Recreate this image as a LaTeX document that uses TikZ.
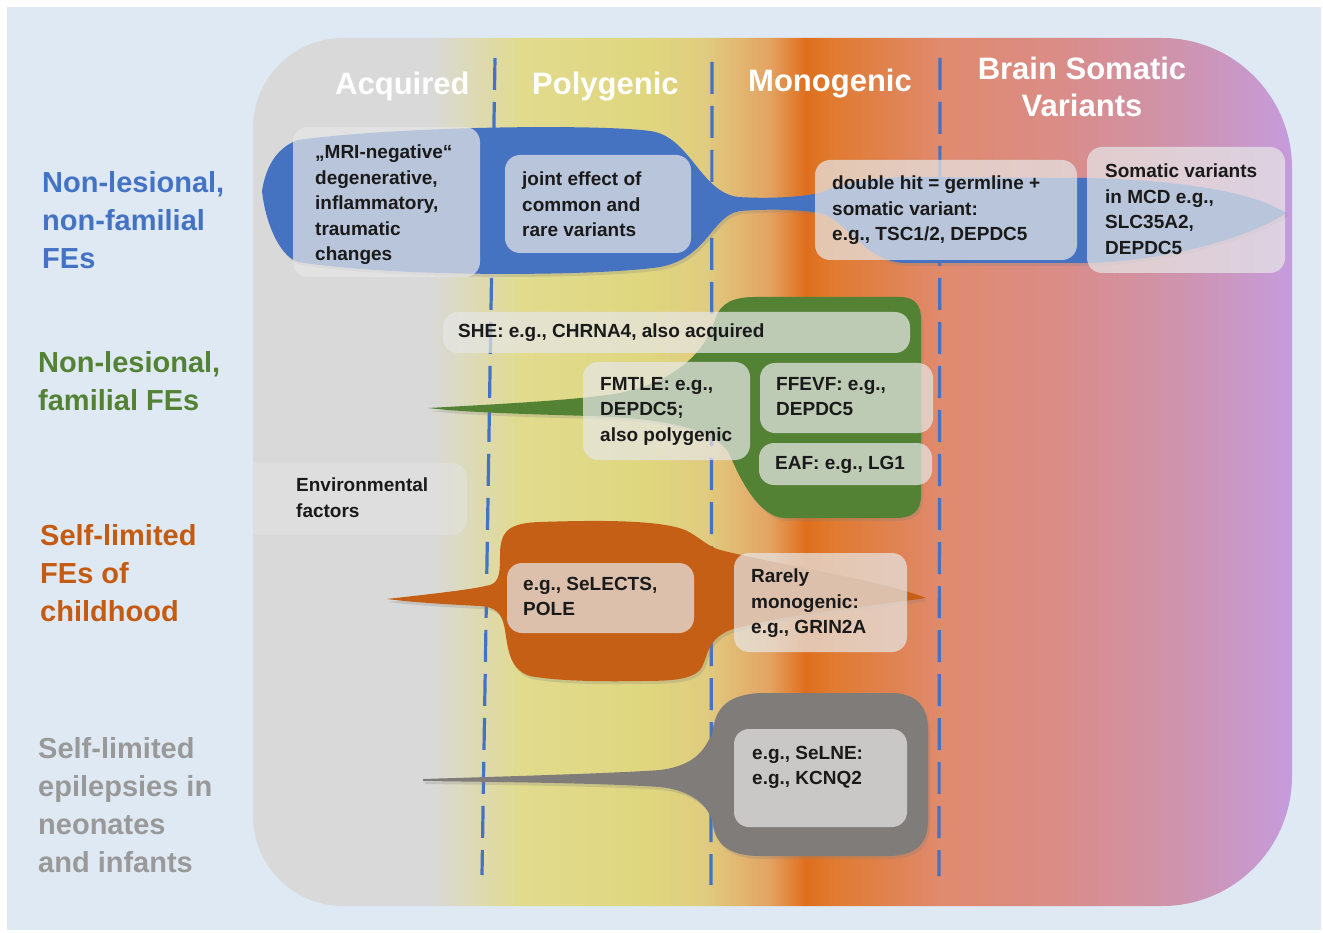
\documentclass[tikz,border=0pt]{standalone}
\usepackage{fontspec}
\setmainfont{Liberation Sans}
\usetikzlibrary{shadows}
\definecolor{bgblue}{HTML}{DFE9F3}
\definecolor{g0}{HTML}{D9D9D9}
\definecolor{g1}{HTML}{E1DB8E}
\definecolor{g2}{HTML}{DFD67E}
\definecolor{g3}{HTML}{E0CC80}
\definecolor{g4}{HTML}{E3A262}
\definecolor{g5}{HTML}{DF6E1C}
\definecolor{g6}{HTML}{E07A2E}
\definecolor{g7}{HTML}{E08A6E}
\definecolor{g8}{HTML}{DA8C88}
\definecolor{g9}{HTML}{CE94AE}
\definecolor{g10}{HTML}{C59CE0}
\definecolor{dashblue}{HTML}{4472C4}
\definecolor{blueblob}{HTML}{4672C2}
\definecolor{greenblob}{HTML}{548235}
\definecolor{orangeblob}{HTML}{C55F16}
\definecolor{greyblob}{HTML}{807C7A}
\definecolor{labblue}{HTML}{4472C4}
\definecolor{labgreen}{HTML}{548235}
\definecolor{laborange}{HTML}{C55A11}
\definecolor{labgrey}{HTML}{999999}
\definecolor{boxgrey}{HTML}{E6E6E6}
\definecolor{txtblack}{HTML}{1A1A1A}
\begin{document}
\begin{tikzpicture}[x=1pt,y=-1pt,
  hdr/.style={text=white, font=\fontsize{31}{37}\selectfont\bfseries, inner sep=0pt, align=center},
  rowlab/.style={font=\fontsize{29}{38}\selectfont\bfseries, inner sep=0pt, align=left, anchor=north west},
  txt/.style={font=\fontsize{19}{25.5}\selectfont\bfseries, text=txtblack, inner sep=0pt, align=left, anchor=north west},
  txbox/.style={fill=boxgrey, fill opacity=0.72, rounded corners=15pt},
  dashline/.style={draw=dashblue, line width=3.2pt, dash pattern=on 32pt off 12pt},
  blob/.style={drop shadow={shadow xshift=2pt, shadow yshift=-3pt, opacity=0.25}}]
\useasboundingbox (0,0) rectangle (1323,933);
\fill[white] (0,0) rectangle (1323,933);
\fill[bgblue] (7,7) rectangle (1321,930);
% gradient panel
\begin{scope}
\clip (253,470) [rounded corners=90pt] -- (253,38) -- (700,38) [rounded corners=130pt] -- (1292,38) -- (1292,906) -- (700,906) [rounded corners=90pt] -- (253,906) -- cycle;
\fill[g0] (250,30) rectangle (431,910);
\shade[left color=g0, right color=g1] (430,30) rectangle (521,910);
\shade[left color=g1, right color=g2] (520,30) rectangle (651,910);
\shade[left color=g2, right color=g3] (650,30) rectangle (706,910);
\shade[left color=g3, right color=g4] (705,30) rectangle (771,910);
\shade[left color=g4, right color=g5] (770,30) rectangle (806,910);
\shade[left color=g5, right color=g6] (805,30) rectangle (831,910);
\shade[left color=g6, right color=g7] (830,30) rectangle (941,910);
\shade[left color=g7, right color=g8] (940,30) rectangle (1061,910);
\shade[left color=g8, right color=g9] (1060,30) rectangle (1181,910);
\shade[left color=g9, right color=g10] (1180,30) rectangle (1300,910);
% faint environmental box (inside the panel)
\fill[boxgrey, fill opacity=0.45, rounded corners=15pt] (240,463) rectangle (467,535);
\end{scope}
% column headers
\node[hdr, anchor=north west] (hacq) at (335,72) {Acquired};
\node[hdr, anchor=north west] (hpoly) at (532,72) {Polygenic};
\node[hdr, anchor=north west] (hmono) at (748,69) {Monogenic};
\node[hdr, anchor=north] (hsom) at (1082,57) {Brain Somatic\\Variants};
% dashed separators
\coordinate (d1t) at (495,58); \coordinate (d1b) at (482,875);
\coordinate (d2t) at (712,62); \coordinate (d2b) at (711,885);
\coordinate (d3t) at (940,58); \coordinate (d3b) at (939,876);
\draw[dashline] (d1t) -- (d1b);
\draw[dashline] (d2t) -- (d2b);
\draw[dashline] (d3t) -- (d3b);
% blue blob
\fill[blueblob, blob] (262,191)
 .. controls (266,165) and (278,147) .. (298,140)
 .. controls (400,126) and (600,124) .. (650,131)
 .. controls (690,136) and (700,192) .. (738,197)
 .. controls (770,199) and (800,197) .. (820,193)
 .. controls (845,182) and (870,178) .. (905,177)
 -- (1090,178)
 .. controls (1200,181) and (1260,196) .. (1286,213)
 .. controls (1260,232) and (1180,260) .. (1090,263)
 -- (905,263)
 .. controls (865,262) and (845,218) .. (820,213)
 .. controls (795,209) and (765,209) .. (740,211)
 .. controls (712,215) and (708,258) .. (660,267)
 .. controls (600,276) and (400,278) .. (298,262)
 .. controls (278,255) and (265,220) .. (262,191) -- cycle;
% green blob
\fill[greenblob, blob] (428,408)
 .. controls (500,404) and (580,400) .. (620,393)
 .. controls (680,380) and (705,350) .. (715,320)
 .. controls (720,302) and (735,297) .. (755,297)
 -- (900,297)
 .. controls (915,297) and (921,305) .. (921,320)
 -- (921,495)
 .. controls (921,512) and (912,518) .. (895,518)
 -- (785,518)
 .. controls (760,518) and (740,480) .. (730,455)
 .. controls (715,425) and (650,418) .. (590,416)
 .. controls (520,414) and (460,412) .. (428,408) -- cycle;
% orange blob
\fill[orangeblob, blob] (387,599)
 .. controls (430,594) and (470,590) .. (490,585)
 .. controls (500,582) and (500,570) .. (500,555)
 .. controls (500,530) and (510,523) .. (540,522)
 .. controls (600,520) and (660,520) .. (685,530)
 .. controls (700,537) and (705,545) .. (720,550)
 .. controls (780,565) and (880,580) .. (926,598)
 .. controls (880,605) and (780,615) .. (730,630)
 .. controls (705,640) and (708,660) .. (700,670)
 .. controls (690,680) and (670,681) .. (640,681)
 .. controls (590,682) and (550,680) .. (530,676)
 .. controls (510,670) and (508,650) .. (505,630)
 .. controls (502,612) and (495,607) .. (480,606)
 .. controls (440,604) and (410,602) .. (387,599) -- cycle;
% grey blob
\fill[greyblob, blob] (423,779)
 .. controls (520,776) and (620,773) .. (660,770)
 .. controls (700,765) and (705,745) .. (712,735)
 .. controls (715,705) and (730,695) .. (760,693)
 -- (895,693)
 .. controls (920,695) and (928,710) .. (928,730)
 -- (928,820)
 .. controls (928,845) and (915,855) .. (890,856)
 -- (760,856)
 .. controls (730,856) and (716,845) .. (713,825)
 .. controls (710,805) and (690,790) .. (660,787)
 .. controls (600,783) and (500,782) .. (423,781) -- cycle;
% translucent text boxes
\fill[txbox] (293,127) rectangle (480,277);
\fill[txbox] (505,155) rectangle (691,253);
\fill[txbox] (815,160) rectangle (1077,260);
\fill[txbox] (1087,147) rectangle (1285,273);
\fill[txbox] (443,312) rectangle (910,353);
\fill[txbox] (583,362) rectangle (750,460);
\fill[txbox] (760,363) rectangle (933,433);
\fill[txbox] (759,443) rectangle (932,485);
\fill[txbox] (507,563) rectangle (694,633);
\fill[txbox] (734,553) rectangle (907,652);
\fill[txbox] (734,729) rectangle (907,827);
% box texts
\node[txt] (tmri) at (315,145) {„MRI-negative“\\degenerative,\\inflammatory,\\traumatic\\changes};
\node[txt] (tjoint) at (522,172) {joint effect of\\common and\\rare variants};
\node[txt] (tdouble) at (832,176) {double hit = germline +\\somatic variant:\\e.g., TSC1/2, DEPDC5};
\node[txt] (tsom) at (1105,164) {Somatic variants\\in MCD e.g.,\\SLC35A2,\\DEPDC5};
\node[txt] (tshe) at (458,324) {SHE: e.g., CHRNA4, also acquired};
\node[txt] (tfmtle) at (600,377) {FMTLE: e.g.,\\DEPDC5;\\also polygenic};
\node[txt] (tffevf) at (776,377) {FFEVF: e.g.,\\DEPDC5};
\node[txt] (teaf) at (775,456) {EAF: e.g., LG1};
\node[txt] (tenv) at (296,478) {Environmental\\factors};
\node[txt] (tselects) at (523,577) {e.g., SeLECTS,\\POLE};
\node[txt] (trarely) at (751,569) {Rarely\\monogenic:\\e.g., GRIN2A};
\node[txt] (tselne) at (752,746) {e.g., SeLNE:\\e.g., KCNQ2};
% row labels
\node[rowlab, text=labblue] (lblue) at (42,171) {Non-lesional,\\non-familial\\FEs};
\node[rowlab, text=labgreen] (lgreen) at (38,351) {Non-lesional,\\familial FEs};
\node[rowlab, text=laborange] (lorange) at (40,524) {Self-limited\\FEs of\\childhood};
\node[rowlab, text=labgrey] (lgrey) at (38,737) {Self-limited\\epilepsies in\\neonates\\and infants};
\end{tikzpicture}
\end{document}
